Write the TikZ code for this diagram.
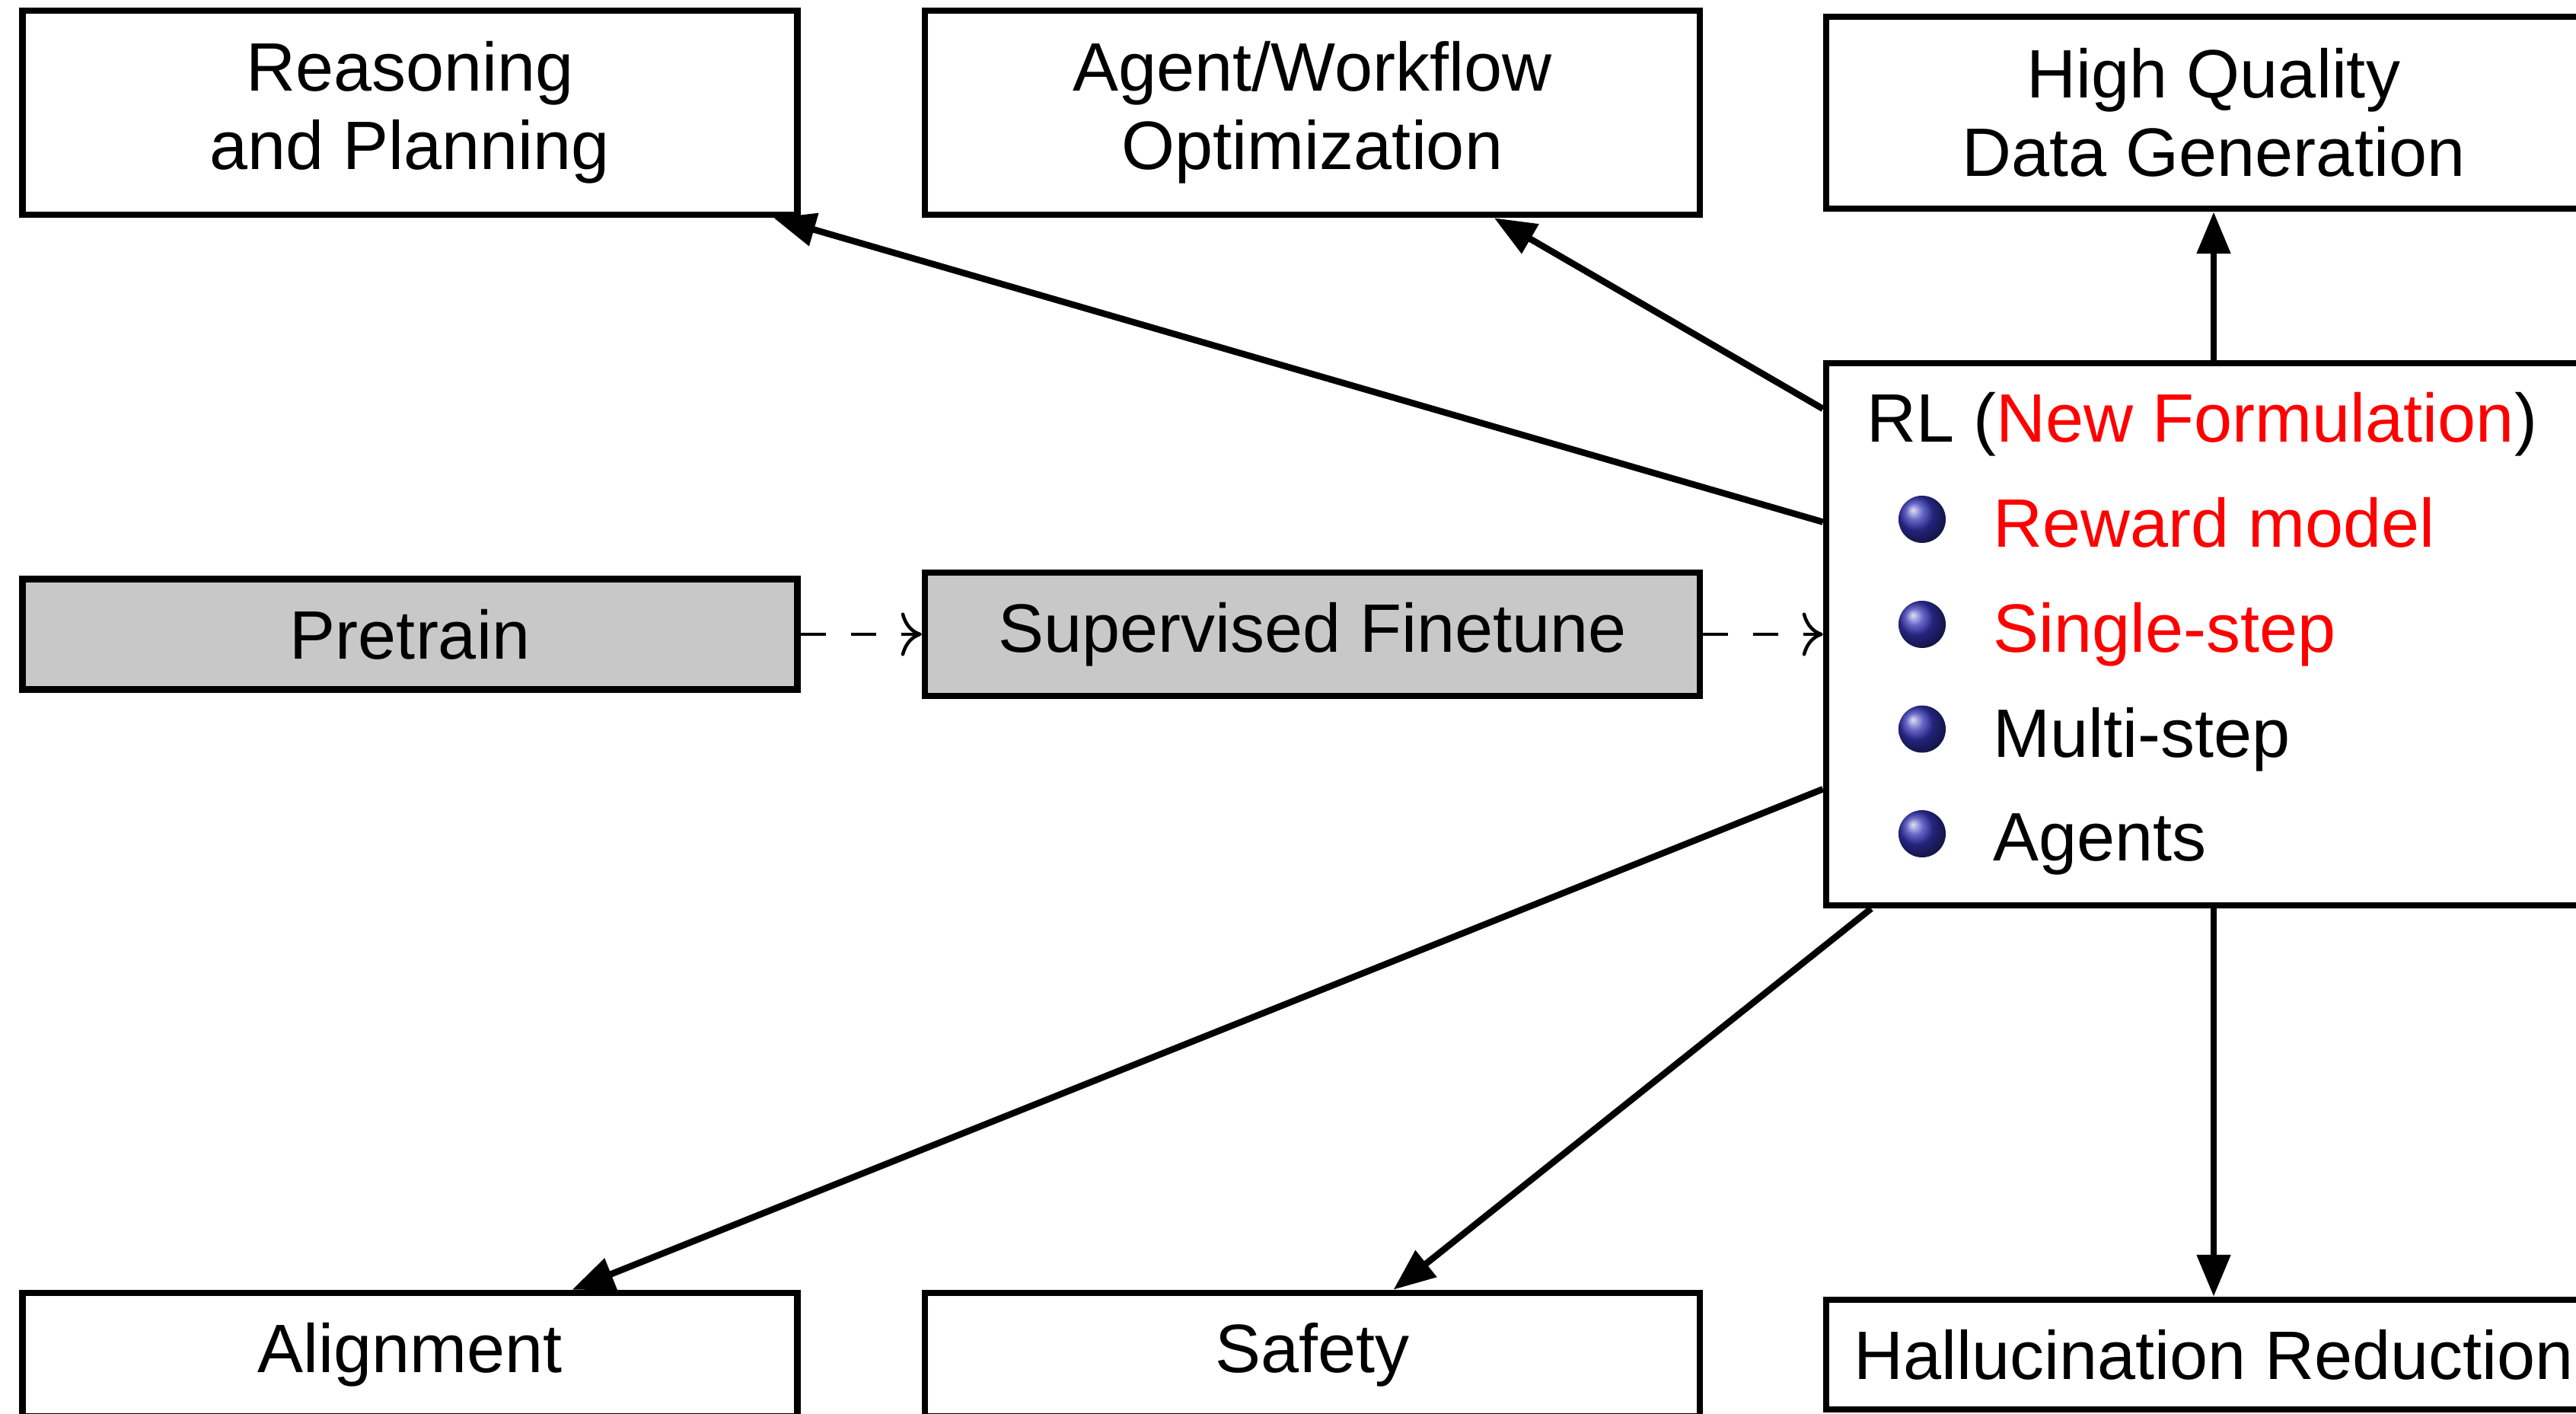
\documentclass[tikz,border=0pt]{standalone}
\usepackage{fontspec}
\setmainfont{Liberation Sans}
\usetikzlibrary{arrows.meta}
\definecolor{boxgray}{RGB}{200,200,200}
\definecolor{ballblue}{RGB}{51,51,179}
\definecolor{hlred}{RGB}{255,0,0}

\begin{document}
\begin{tikzpicture}[
  font=\fontsize{25.61}{29.31}\selectfont,
  box/.style={draw, line width=2.42pt, minimum width=10.18cm, inner sep=0pt, align=center},
  stage/.style={box, fill=boxgray},
  flow/.style={line width=2.42pt, -{Triangle[length=0.55cm,width=0.43cm]}},
  handoff/.style={line width=1.28pt, dash pattern=on 0.33cm off 0.33cm, -{To[length=0.27cm,width=0.57cm]}},
  bulletball/.style={circle, inner sep=0pt, minimum size=0.62cm, shading=ball, ball color=ballblue},
  itemtext/.style={anchor=base west, inner sep=0pt}
]
\clip (0,0) rectangle (33.84,18.56);

% application areas, top row
\node[box, minimum height=2.68cm] (reason) at (5.385,17.08) {Reasoning\\and Planning};
\node[box, minimum height=2.68cm] (agent)  at (17.24,17.08) {Agent/Workflow\\Optimization};
\node[box, minimum height=2.52cm] (hq)     at (29.08,17.08) {High Quality\\Data Generation};

% training pipeline, middle row
\node[stage, minimum height=1.45cm] (pretrain) at (5.385,10.23) {Pretrain};
\node[stage, minimum height=1.62cm] (sft)      at (17.24,10.23) {Supervised Finetune};
\node[box, minimum height=7.12cm]   (rl)       at (29.08,10.23) {};

% contents of the RL box
\node[itemtext] (rltitle) at (24.52,12.75) {RL (\textcolor{hlred}{New Formulation})};
\node[bulletball] (b1) at (25.25,11.74) {};
\node[bulletball] (b2) at (25.25,10.36) {};
\node[bulletball] (b3) at (25.25,8.985) {};
\node[bulletball] (b4) at (25.25,7.61) {};
\node[itemtext] (i1) at (26.18,11.37) {\textcolor{hlred}{Reward model}};
\node[itemtext] (i2) at (26.18,9.99)  {\textcolor{hlred}{Single-step}};
\node[itemtext] (i3) at (26.18,8.61)  {Multi-step};
\node[itemtext] (i4) at (26.18,7.25)  {Agents};

% application areas, bottom row
\node[box, minimum height=1.62cm] (align)  at (5.385,0.77) {Alignment};
\node[box, minimum height=1.62cm] (safety) at (17.24,0.77) {Safety};
\node[box, minimum height=1.44cm] (halluc) at (29.08,0.77) {Hallucination Reduction};

% pipeline hand-offs
\draw[handoff] (pretrain) -- (sft);
\draw[handoff] (sft) -- (rl);

% RL feeding the application areas
\draw[flow] (rl) -- (reason);
\draw[flow] (rl) -- (agent);
\draw[flow] (rl) -- (hq);
\draw[flow] (rl) -- (align);
\draw[flow] (rl) -- (safety);
\draw[flow] (rl) -- (halluc);
\end{tikzpicture}
\end{document}
